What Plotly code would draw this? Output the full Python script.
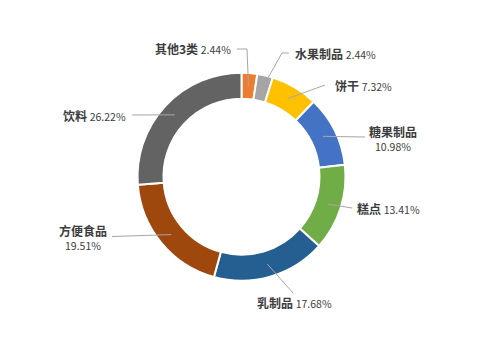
import math
import plotly.graph_objects as go

# ---- data ----
categories = ["其他3类", "水果制品", "饼干", "糖果制品", "糕点", "乳制品", "方便食品", "饮料"]
shares = [2.44, 2.44, 7.32, 10.98, 13.41, 17.68, 19.51, 26.22]
pct_labels = ["2.44%", "2.44%", "7.32%", "10.98%", "13.41%", "17.68%", "19.51%", "26.22%"]

# ---- style / layout ----
colors = ["#ED7D31", "#A5A5A5", "#FFC000", "#4472C4", "#70AD47", "#255E91", "#9E480E", "#636363"]
W, H = 495, 343
CX, CY, R_OUT = 241.5, 176.7, 104.0
HOLE = 0.75
R_ANCHOR = 91.0
TXT = "#3c3c3c"
LINE = "#A6A6A6"
FONT = "Noto Sans CJK SC"

# label placement (pixels): text position, anchor, optional elbow point, leader outer end
label_cfg = [
    dict(tx=233, ty=49, xa="right", elbow=(247, 49), end=(237, 49), two=False),
    dict(tx=293, ty=53, xa="left", elbow=(282, 53), end=(289, 53), two=False),
    dict(tx=333, ty=85, xa="left", elbow=None, end=(325, 85), two=False),
    dict(tx=393, ty=138.5, xa="center", elbow=None, end=(365, 137), two=True),
    dict(tx=355, ty=208.5, xa="left", elbow=None, end=(352, 208), two=False),
    dict(tx=255, ty=302.5, xa="left", elbow=None, end=(293, 293), two=False),
    dict(tx=83, ty=237, xa="center", elbow=None, end=(112, 236.5), two=True),
    dict(tx=128, ty=115, xa="right", elbow=None, end=(132, 115), two=False),
]


def px(x):
    return x / W


def py(y):
    return 1 - y / H


fig = go.Figure(
    go.Pie(
        labels=categories,
        values=shares,
        hole=HOLE,
        sort=False,
        direction="clockwise",
        rotation=0,
        marker=dict(colors=colors, line=dict(color="white", width=2)),
        textinfo="none",
        hoverinfo="skip",
        showlegend=False,
        domain=dict(x=[px(CX - R_OUT), px(CX + R_OUT)], y=[py(CY + R_OUT), py(CY - R_OUT)]),
    )
)

total = sum(shares)
cum = 0.0
shapes = []
annotations = []
for name, v, pl, cfg in zip(categories, shares, pct_labels, label_cfg):
    mid = (cum + v / 2) / total * 2 * math.pi
    cum += v
    ax = CX + R_ANCHOR * math.sin(mid)
    ay = CY - R_ANCHOR * math.cos(mid)
    pts = [cfg["end"]]
    if cfg["elbow"]:
        pts.append(cfg["elbow"])
    pts.append((ax, ay))
    path = "M " + " L ".join(f"{px(x)},{py(y)}" for x, y in pts)
    shapes.append(dict(type="path", xref="paper", yref="paper", path=path,
                       line=dict(color=LINE, width=1)))
    if cfg["two"]:
        annotations.append(dict(x=px(cfg["tx"]), y=py(cfg["ty"]), xref="paper", yref="paper",
                                text=f"<span style='font-size:12px'><b>{name}</b></span><br>{pl}",
                                showarrow=False, xanchor="center", align="center",
                                yanchor="middle", font=dict(family=FONT, size=10.5, color=TXT)))
    else:
        annotations.append(dict(x=px(cfg["tx"]), y=py(cfg["ty"]), xref="paper", yref="paper",
                                text=f"<b>{name}</b> <span style='font-size:10.5px'>{pl}</span>",
                                showarrow=False, xanchor=cfg["xa"], yanchor="middle",
                                font=dict(family=FONT, size=12, color=TXT)))

fig.update_layout(
    width=W, height=H,
    margin=dict(l=0, r=0, t=0, b=0),
    paper_bgcolor="white",
    shapes=shapes,
    annotations=annotations,
)

fig.write_html("out.html")
